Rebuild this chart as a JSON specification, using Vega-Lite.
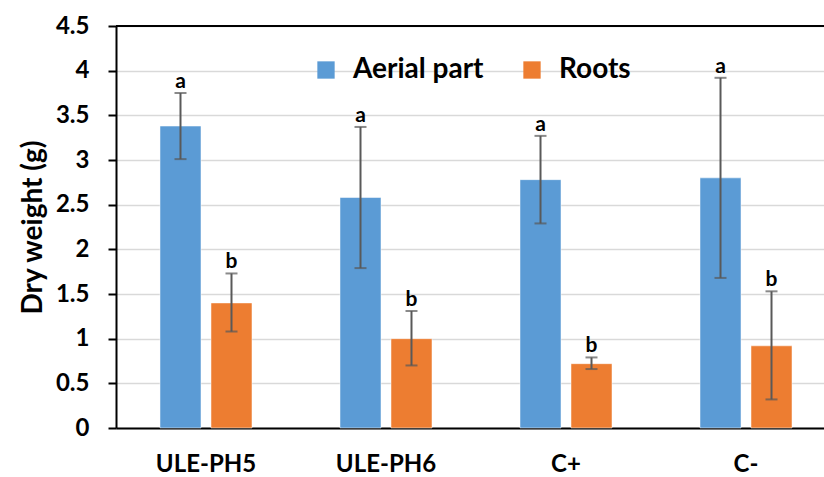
{
  "$schema": "https://vega.github.io/schema/vega-lite/v6.json",
  "autosize": "none",
  "width": 708,
  "height": 402,
  "padding": {"left": 116, "top": 26, "right": 0, "bottom": 49},
  "background": "white",
  "config": {
    "view": {"stroke": null},
    "font": "Lato",
    "axis": {"labelFont": "Lato", "labelFontWeight": "bold", "labelFontSize": 24, "labelColor": "black", "titleFont": "Lato", "titleFontWeight": "bold", "titleColor": "black"},
    "legend": {"labelFont": "Lato"}
  },
  "data": {
    "values": [
      {"group": "ULE-PH5", "part": "Aerial part", "value": 3.38, "lo": 3.01, "hi": 3.75, "letter": "a"},
      {"group": "ULE-PH5", "part": "Roots", "value": 1.40, "lo": 1.08, "hi": 1.73, "letter": "b"},
      {"group": "ULE-PH6", "part": "Aerial part", "value": 2.58, "lo": 1.79, "hi": 3.37, "letter": "a"},
      {"group": "ULE-PH6", "part": "Roots", "value": 1.00, "lo": 0.70, "hi": 1.31, "letter": "b"},
      {"group": "C+", "part": "Aerial part", "value": 2.78, "lo": 2.29, "hi": 3.27, "letter": "a"},
      {"group": "C+", "part": "Roots", "value": 0.72, "lo": 0.66, "hi": 0.79, "letter": "b"},
      {"group": "C-", "part": "Aerial part", "value": 2.80, "lo": 1.68, "hi": 3.92, "letter": "a"},
      {"group": "C-", "part": "Roots", "value": 0.92, "lo": 0.32, "hi": 1.53, "letter": "b"}
    ]
  },
  "encoding": {
    "x": {
      "field": "group", "type": "nominal", "sort": null,
      "scale": {"range": [0, 720], "paddingInner": 0.4889, "paddingOuter": 0.2444},
      "axis": {"title": null, "labelAngle": 0, "ticks": false, "domainColor": "black", "domainWidth": 2, "labelPadding": 24}
    },
    "xOffset": {
      "field": "part", "type": "nominal",
      "scale": {"paddingInner": 0.196, "paddingOuter": 0}
    }
  },
  "layer": [
    {
      "mark": {"type": "bar", "stroke": "white", "strokeWidth": 0.5},
      "encoding": {
        "y": {
          "field": "value", "type": "quantitative",
          "scale": {"domain": [0, 4.5], "nice": false},
          "axis": {
            "title": "Dry weight (g)", "titleFontSize": 28, "titlePadding": 8,
            "values": [0, 0.5, 1, 1.5, 2, 2.5, 3, 3.5, 4, 4.5], "format": "~g",
            "tickSize": 8, "tickColor": "black", "tickWidth": 2, "labelPadding": 19,
            "domainColor": "black", "domainWidth": 2,
            "gridColor": "#D9D9D9", "gridWidth": 1.5
          }
        },
        "color": {
          "field": "part", "type": "nominal",
          "scale": {"domain": ["Aerial part", "Roots"], "range": ["#5B9BD5", "#ED7D31"]},
          "legend": {
            "title": null, "orient": "none", "direction": "horizontal",
            "legendX": 196, "legendY": 30,
            "symbolType": "square", "symbolSize": 300, "symbolStrokeWidth": 0,
            "labelFontSize": 28, "labelFontWeight": "bold", "labelColor": "black",
            "labelOffset": 13, "columnPadding": 34
          }
        }
      }
    },
    {
      "mark": {"type": "rule", "color": "black", "strokeWidth": 2},
      "encoding": {"y": {"datum": 4.5}, "x": null, "xOffset": null}
    },
    {
      "mark": {"type": "rule", "color": "#595959", "strokeWidth": 2},
      "encoding": {"y": {"field": "lo", "type": "quantitative"}, "y2": {"field": "hi"}}
    },
    {
      "mark": {"type": "tick", "color": "#595959", "thickness": 2, "size": 12},
      "encoding": {"y": {"field": "hi", "type": "quantitative"}}
    },
    {
      "mark": {"type": "tick", "color": "#595959", "thickness": 2, "size": 12},
      "encoding": {"y": {"field": "lo", "type": "quantitative"}}
    },
    {
      "mark": {"type": "text", "baseline": "bottom", "dy": -1, "fontSize": 21, "fontWeight": "bold", "color": "black", "font": "Lato"},
      "encoding": {"y": {"field": "hi", "type": "quantitative"}, "text": {"field": "letter"}}
    }
  ]
}
